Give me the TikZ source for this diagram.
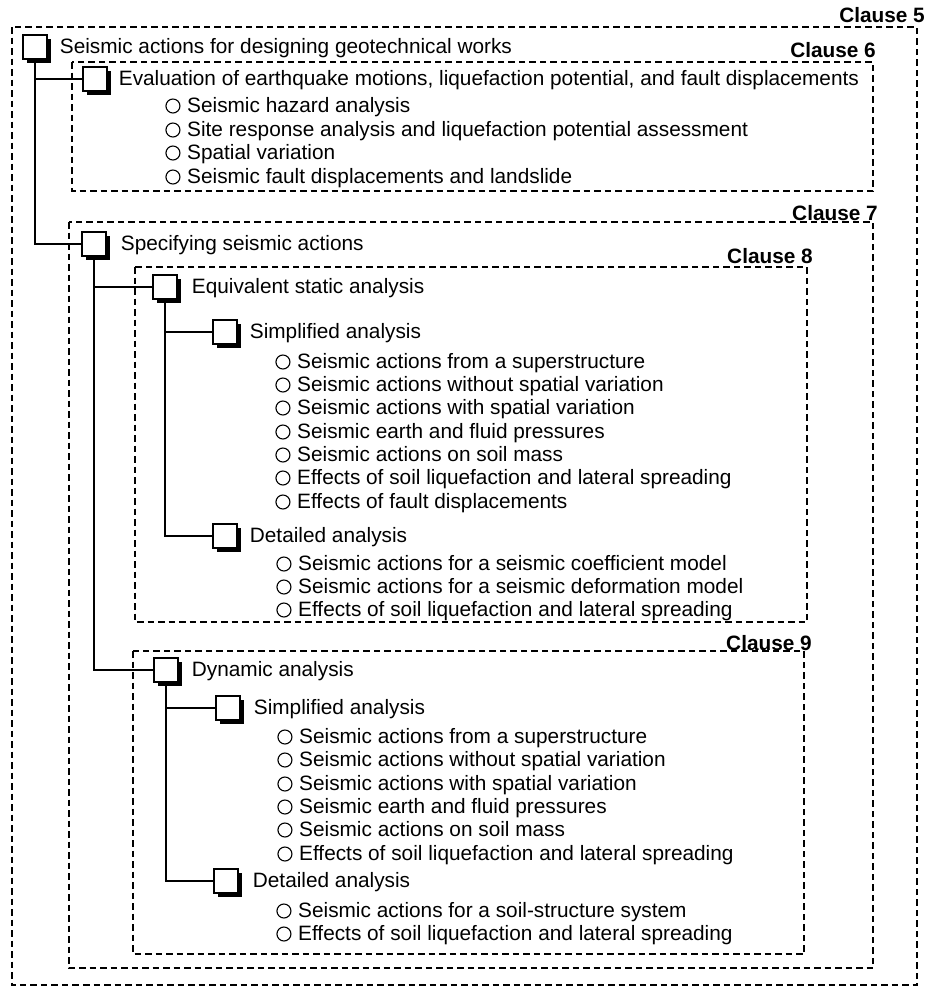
\documentclass[tikz,border=0pt]{standalone}
\usepackage{fontspec}
\setmainfont{Liberation Sans}
\usetikzlibrary{positioning,shadows}

\begin{document}
\begin{tikzpicture}[
        x=1pt, y=-1pt,
        clause/.style={draw, dash pattern=on 6.5pt off 4pt, line width=1.2pt},
        clauselbl/.style={anchor=base east, inner sep=0pt, font=\fontsize{20.8}{23}\selectfont\bfseries},
        chk/.style={
            rectangle,
            draw=black,
            fill=white,
            line width=1.4pt,
            minimum size=24pt,
            inner sep=0pt,
            drop shadow={shadow xshift=3.5pt, shadow yshift=-3.5pt, fill=black, opacity=1}
        },
        head/.style={anchor=west, inner sep=0pt, text height=16pt, text depth=3pt, font=\fontsize{20.8}{23}\selectfont},
        bullet/.style={circle, draw, line width=1.1pt, minimum size=14pt, inner sep=0pt, text height=0pt, text depth=0pt},
        item/.style={head, label={[bullet, label distance=6.5pt]left:{}}},
        link/.style={line width=1.2pt}
    ]

    \useasboundingbox (0,0) rectangle (928,989);

    % Clauses
    \draw[clause] (12,27) rectangle (917,985);
    \draw[clause] (72,62) rectangle (873,191);
    \draw[clause] (69,222) rectangle (873,968);
    \draw[clause] (135,267) rectangle (807,622);
    \draw[clause] (133,651) rectangle (804,954);

    \node[clauselbl] (c5) at (925,22) {Clause 5};
    \node[clauselbl] (c6) at (876,57) {Clause 6};
    \node[clauselbl] (c7) at (878,220) {Clause 7};
    \node[clauselbl] (c8) at (813,263) {Clause 8};
    \node[clauselbl] (c9) at (812,650) {Clause 9};

    % Boxes
    \node[chk] (s0) at (35,47) {};
    \node[chk] (s1) at (95,79) {};
    \node[chk] (s2) at (94,244) {};
    \node[chk] (s3) at (165,287) {};
    \node[chk] (s4) at (225,332) {};
    \node[chk] (s5) at (225,536) {};
    \node[chk] (s6) at (166,670) {};
    \node[chk] (s7) at (228,708) {};
    \node[chk] (s8) at (226,881) {};

    \node[head, right=12pt of s0] (t0) {Seismic actions for designing geotechnical works};
    \node[head, right=11pt of s1] (t1) {Evaluation of earthquake motions, liquefaction potential, and fault displacements};
    \node[head, right=14pt of s2] (t2) {Specifying seismic actions};
    \node[head, right=14pt of s3] (t3) {Equivalent static analysis};
    \node[head, right=12pt of s4] (t4) {Simplified analysis};
    \node[head, right=12pt of s5] (t5) {Detailed analysis};
    \node[head, right=13pt of s6] (t6) {Dynamic analysis};
    \node[head, right=13pt of s7] (t7) {Simplified analysis};
    \node[head, right=14pt of s8] (t8) {Detailed analysis};

    % Clause 6 items
    \node[item] (e1) at (187,106) {Seismic hazard analysis};
    \node[item] (e2) at (187,130) {Site response analysis and liquefaction potential assessment};
    \node[item] (e3) at (187,153) {Spatial variation};
    \node[item] (e4) at (187,177) {Seismic fault displacements and landslide};

    % Clause 8 items
    \node[item] (a1) at (297,362) {Seismic actions from a superstructure};
    \node[item] (a2) at (297,385) {Seismic actions without spatial variation};
    \node[item] (a3) at (297,408) {Seismic actions with spatial variation};
    \node[item] (a4) at (297,432) {Seismic earth and fluid pressures};
    \node[item] (a5) at (297,455) {Seismic actions on soil mass};
    \node[item] (a6) at (297,478) {Effects of soil liquefaction and lateral spreading};
    \node[item] (a7) at (297,502) {Effects of fault displacements};

    \node[item] (b1) at (298,564) {Seismic actions for a seismic coefficient model};
    \node[item] (b2) at (298,587) {Seismic actions for a seismic deformation model};
    \node[item] (b3) at (298,610) {Effects of soil liquefaction and lateral spreading};

    % Clause 9 items
    \node[item] (d1) at (299,737) {Seismic actions from a superstructure};
    \node[item] (d2) at (299,760) {Seismic actions without spatial variation};
    \node[item] (d3) at (299,784) {Seismic actions with spatial variation};
    \node[item] (d4) at (299,807) {Seismic earth and fluid pressures};
    \node[item] (d5) at (299,830) {Seismic actions on soil mass};
    \node[item] (d6) at (299,854) {Effects of soil liquefaction and lateral spreading};

    \node[item] (f1) at (298,911) {Seismic actions for a soil-structure system};
    \node[item] (f2) at (298,934) {Effects of soil liquefaction and lateral spreading};

    % Lines
    \draw[link] (s0.south) |- (s1.west);
    \draw[link] (s0.south) |- (s2.west);
    \draw[link] (s2.south) |- (s3.west);
    \draw[link] (s2.south) |- (s6.west);
    \draw[link] (s3.south) |- (s4.west);
    \draw[link] (s3.south) |- (s5.west);
    \draw[link] (s6.south) |- (s7.west);
    \draw[link] (s6.south) |- (s8.west);

\end{tikzpicture}
\end{document}
